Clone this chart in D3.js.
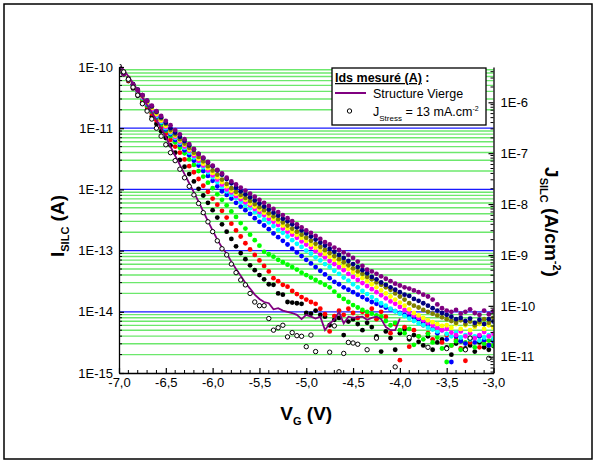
<!DOCTYPE html>
<html><head><meta charset="utf-8">
<script src="https://cdn.jsdelivr.net/npm/d3@7"></script>
<style>body{margin:0;background:#fff}svg{display:block}text{font-family:"Liberation Sans",Arial,sans-serif}</style>
</head><body><svg id="c" width="597" height="463"></svg>
<script>
// Gate voltage grid (V)
const vg = [-7.00,-6.95,-6.90,-6.85,-6.80,-6.75,-6.70,-6.65,-6.60,-6.55,-6.50,-6.45,-6.40,-6.35,-6.30,-6.25,-6.20,-6.15,-6.10,-6.05,
-6.00,-5.95,-5.90,-5.85,-5.80,-5.75,-5.70,-5.65,-5.60,-5.55,-5.50,-5.45,-5.40,-5.35,-5.30,-5.25,-5.20,-5.15,-5.10,-5.05,
-5.00,-4.95,-4.90,-4.85,-4.80,-4.75,-4.70,-4.65,-4.60,-4.55,-4.50,-4.45,-4.40,-4.35,-4.30,-4.25,-4.20,-4.15,-4.10,-4.05,
-4.00,-3.95,-3.90,-3.85,-3.80,-3.75,-3.70,-3.65,-3.60,-3.55,-3.50,-3.45,-3.40,-3.35,-3.30,-3.25,-3.20,-3.15,-3.10,-3.05,-3.00];

// log10(Ids / A), one value per VG
const purple = [-10.05,-10.12,-10.20,-10.29,-10.38,-10.46,-10.55,-10.63,-10.72,-10.80,
-10.88,-10.95,-11.03,-11.10,-11.18,-11.26,-11.34,-11.42,-11.48,-11.55,
-11.61,-11.68,-11.74,-11.81,-11.87,-11.92,-11.97,-12.02,-12.07,-12.12,
-12.17,-12.22,-12.27,-12.32,-12.37,-12.42,-12.47,-12.52,-12.57,-12.62,
-12.67,-12.71,-12.76,-12.81,-12.86,-12.90,-12.95,-12.99,-13.03,-13.07,
-13.12,-13.18,-13.25,-13.31,-13.34,-13.38,-13.42,-13.46,-13.50,-13.54,
-13.57,-13.60,-13.62,-13.65,-13.68,-13.72,-13.75,-13.80,-13.88,-13.94,
-13.98,-14.00,-13.97,-14.03,-14.00,-13.96,-14.02,-14.05,-13.98,-14.04,-13.99];
const navy = [-10.02,-10.10,-10.19,-10.28,-10.37,-10.46,-10.55,-10.64,-10.73,-10.82,
-10.91,-11.00,-11.07,-11.14,-11.21,-11.28,-11.35,-11.42,-11.49,-11.56,
-11.62,-11.69,-11.76,-11.83,-11.90,-11.97,-12.03,-12.08,-12.13,-12.18,
-12.23,-12.28,-12.33,-12.38,-12.43,-12.48,-12.52,-12.57,-12.62,-12.67,
-12.72,-12.77,-12.82,-12.87,-12.92,-12.97,-13.02,-13.07,-13.12,-13.17,
-13.22,-13.27,-13.32,-13.37,-13.43,-13.47,-13.52,-13.56,-13.60,-13.64,
-13.68,-13.72,-13.74,-13.79,-13.82,-13.86,-13.90,-13.94,-13.98,-14.02,
-14.05,-14.08,-14.12,-14.10,-14.15,-14.11,-14.18,-14.13,-14.20,-14.12,-14.16];
const olive = [-10.00,-10.09,-10.18,-10.28,-10.37,-10.46,-10.56,-10.65,-10.74,-10.84,
-10.93,-11.03,-11.10,-11.18,-11.25,-11.32,-11.40,-11.47,-11.54,-11.62,
-11.69,-11.76,-11.84,-11.91,-11.98,-12.04,-12.09,-12.14,-12.19,-12.24,
-12.29,-12.34,-12.39,-12.44,-12.49,-12.54,-12.59,-12.64,-12.69,-12.74,
-12.79,-12.84,-12.89,-12.94,-12.99,-13.04,-13.09,-13.14,-13.19,-13.24,
-13.29,-13.34,-13.38,-13.43,-13.47,-13.52,-13.56,-13.60,-13.64,-13.70,
-13.75,-13.80,-13.86,-13.90,-13.93,-13.97,-14.00,-14.03,-14.06,-14.09,
-14.12,-14.15,-14.18,-14.14,-14.20,-14.16,-14.22,-14.17,-14.12,-14.18,-14.10];
const yellow = [-10.00,-10.09,-10.19,-10.29,-10.38,-10.48,-10.58,-10.67,-10.77,-10.87,
-10.96,-11.05,-11.12,-11.20,-11.27,-11.35,-11.42,-11.50,-11.58,-11.65,
-11.73,-11.80,-11.88,-11.95,-12.02,-12.07,-12.12,-12.17,-12.23,-12.28,
-12.33,-12.38,-12.43,-12.48,-12.53,-12.59,-12.64,-12.69,-12.74,-12.79,
-12.84,-12.90,-12.95,-13.00,-13.05,-13.10,-13.15,-13.20,-13.25,-13.30,
-13.35,-13.40,-13.45,-13.50,-13.55,-13.60,-13.65,-13.70,-13.75,-13.80,
-13.85,-13.90,-13.96,-14.02,-14.06,-14.10,-14.14,-14.17,-14.20,-14.23,
-14.22,-14.26,-14.20,-14.28,-14.22,-14.30,-14.25,-14.20,-14.28,-14.22,-14.26];
const magenta = [-10.00,-10.10,-10.20,-10.29,-10.39,-10.49,-10.59,-10.69,-10.78,-10.88,
-10.98,-11.06,-11.14,-11.22,-11.30,-11.37,-11.45,-11.53,-11.61,-11.69,
-11.77,-11.84,-11.92,-12.00,-12.05,-12.11,-12.16,-12.21,-12.26,-12.32,
-12.37,-12.42,-12.48,-12.53,-12.58,-12.64,-12.69,-12.74,-12.79,-12.85,
-12.90,-12.95,-13.01,-13.06,-13.11,-13.17,-13.22,-13.27,-13.32,-13.38,
-13.43,-13.48,-13.53,-13.58,-13.63,-13.68,-13.73,-13.78,-13.83,-13.87,
-13.92,-13.97,-14.01,-14.06,-14.10,-14.14,-14.18,-14.22,-14.26,-14.30,
-14.28,-14.34,-14.38,-14.32,-14.40,-14.35,-14.43,-14.38,-14.33,-14.40,-14.36];
const cyan = [-10.00,-10.10,-10.20,-10.30,-10.40,-10.50,-10.60,-10.70,-10.80,-10.90,
-11.00,-11.08,-11.16,-11.24,-11.32,-11.40,-11.48,-11.56,-11.64,-11.72,
-11.80,-11.88,-11.96,-12.03,-12.09,-12.14,-12.20,-12.26,-12.31,-12.37,
-12.43,-12.49,-12.54,-12.60,-12.66,-12.71,-12.77,-12.83,-12.89,-12.94,
-13.00,-13.05,-13.11,-13.16,-13.22,-13.27,-13.33,-13.38,-13.44,-13.49,
-13.55,-13.60,-13.66,-13.71,-13.76,-13.81,-13.86,-13.90,-13.95,-13.99,
-14.03,-14.07,-14.11,-14.15,-14.19,-14.22,-14.26,-14.29,-14.32,-14.30,
-14.36,-14.40,-14.34,-14.42,-14.38,-14.45,-14.40,-14.47,-14.42,-14.38,-14.44];
const blue = [-10.00,-10.10,-10.20,-10.30,-10.40,-10.50,-10.61,-10.71,-10.81,-10.91,
-11.02,-11.10,-11.19,-11.27,-11.36,-11.44,-11.53,-11.61,-11.70,-11.78,
-11.86,-11.95,-12.03,-12.09,-12.15,-12.22,-12.28,-12.34,-12.40,-12.47,
-12.53,-12.59,-12.65,-12.72,-12.78,-12.84,-12.90,-12.97,-13.03,-13.09,
-13.15,-13.21,-13.27,-13.33,-13.39,-13.45,-13.51,-13.55,-13.60,-13.64,
-13.68,-13.72,-13.76,-13.80,-13.84,-13.87,-13.90,-13.93,-13.96,-13.99,
-14.02,-14.05,-14.07,-14.10,-14.12,-14.18,-14.22,-14.28,-14.35,-14.30,
-14.45,-14.82,-14.40,-14.48,-14.52,-14.44,-14.50,-14.40,-14.46,-14.55,-14.48];
const green = [-10.00,-10.10,-10.21,-10.31,-10.42,-10.52,-10.63,-10.73,-10.83,-10.94,
-11.04,-11.13,-11.23,-11.32,-11.41,-11.51,-11.60,-11.70,-11.79,-11.89,
-11.98,-12.08,-12.17,-12.26,-12.36,-12.45,-12.55,-12.64,-12.74,-12.83,
-12.92,-13.02,-13.06,-13.10,-13.15,-13.19,-13.23,-13.27,-13.31,-13.36,
-13.40,-13.44,-13.48,-13.52,-13.56,-13.60,-13.67,-13.74,-13.79,-13.84,
-13.89,-13.93,-13.97,-14.00,-14.03,-14.06,-14.08,-14.15,-14.22,-14.18,
-14.30,-14.35,-14.28,-14.54,-14.40,-14.45,-14.36,-14.50,-14.42,-14.60,
-14.82,-14.55,-14.48,-14.62,-14.50,-14.45,-14.58,-14.40,-14.52,-14.47,-14.55];
const red = [-10.00,-10.11,-10.22,-10.33,-10.43,-10.54,-10.65,-10.76,-10.87,-10.98,
-11.09,-11.19,-11.30,-11.40,-11.51,-11.62,-11.72,-11.83,-11.94,-12.04,
-12.15,-12.25,-12.35,-12.46,-12.56,-12.67,-12.77,-12.88,-12.98,-13.07,
-13.16,-13.25,-13.34,-13.45,-13.50,-13.56,-13.59,-13.66,-13.71,-13.76,
-13.80,-13.84,-13.87,-13.95,-14.04,-14.32,-14.07,-13.98,-14.05,-13.95,
-14.02,-14.10,-14.00,-14.06,-13.95,-14.12,-14.00,-14.08,-14.35,-14.20,
-14.79,-14.25,-14.57,-14.30,-14.40,-14.22,-14.35,-14.45,-14.28,-14.50,
-14.38,-14.55,-14.46,-14.60,-14.80,-14.50,-14.42,-14.58,-14.48,-14.54,-14.45];
const black = [-10.00,-10.12,-10.23,-10.35,-10.47,-10.58,-10.70,-10.81,-10.93,-11.05,
-11.16,-11.28,-11.40,-11.52,-11.63,-11.75,-11.87,-11.99,-12.10,-12.22,
-12.34,-12.46,-12.57,-12.69,-12.81,-12.93,-13.04,-13.14,-13.24,-13.32,
-13.40,-13.47,-13.55,-13.56,-13.70,-13.72,-13.84,-13.85,-13.86,-13.87,
-14.02,-14.03,-13.98,-14.05,-14.08,-14.22,-14.13,-14.10,-14.38,-14.16,
-14.12,-14.20,-14.30,-14.18,-14.25,-14.40,-14.65,-14.32,-14.43,-14.62,
-14.35,-14.28,-14.45,-14.38,-14.49,-14.55,-14.40,-14.62,-14.50,-14.45,
-14.58,-14.70,-14.52,-14.48,-14.60,-14.55,-14.65,-14.50,-14.58,-14.62,-14.56];
// open circles: J_Stress = 13 mA.cm-2 (null = no visible point)
const stress13 = [-9.98,-10.08,-10.20,-10.33,-10.46,-10.60,-10.72,-10.85,-11.00,-11.13,
-11.27,-11.40,-11.53,-11.67,-11.81,-11.95,-12.09,-12.23,-12.38,-12.53,
-12.69,-12.84,-12.97,-13.07,-13.22,-13.36,-13.48,-13.56,-13.70,-13.84,
-13.90,-13.90,-14.11,-14.30,-14.26,-14.22,-14.41,-14.34,-14.39,-14.40,
-14.57,-14.38,-14.65,null,null,-14.66,-14.23,-14.98,-14.68,-14.50,
-14.51,-14.53,null,-14.62,null,-14.43,null,null,null,-14.90,
null,null,-14.42,null,null,null,-14.58,null,null,null,
-14.60,null,null,null,-14.62,-14.43,null,null,null,-14.76,null];
// line: Structure Vierge (VG from -7.00 to -4.00)
const vierge = [-9.95,-10.05,-10.15,-10.26,-10.38,-10.50,-10.62,-10.74,-10.87,-11.00,
-11.14,-11.30,-11.45,-11.60,-11.75,-11.90,-12.05,-12.20,-12.36,-12.52,
-12.67,-12.82,-12.95,-13.05,-13.18,-13.30,-13.41,-13.53,-13.62,-13.72,
-13.79,-13.84,-13.86,-13.96,-13.94,-13.98,-14.00,-14.02,-14.05,-14.12,
-14.05,-14.08,-14.11,-14.08,-14.30,-14.19,-14.13,-14.00,-14.19,-14.08,
-14.10,-14.09,-14.08,-14.13,-14.10,-14.08,-14.12,-14.25,-14.30,-14.30,-14.11];

const leftTicks = ["1E-15","1E-14","1E-13","1E-12","1E-11","1E-10"];
const rightTicks = ["1E-11","1E-10","1E-9","1E-8","1E-7","1E-6"];
const xTicks = ["-7,0","-6,5","-6,0","-5,5","-5,0","-4,5","-4,0","-3,5","-3,0"];
const xTickVals = [-7,-6.5,-6,-5.5,-5,-4.5,-4,-3.5,-3];

const svg = d3.select('#c');
const X0 = 119, X1 = 493.5, Y0 = 67, Y1 = 373;
const x = d3.scaleLinear().domain([-7, -3]).range([X0, X1]);
const y = d3.scaleLog().domain([1e-15, 1e-10]).range([Y1, Y0]);
const yR = d3.scaleLog().domain([Math.pow(10, -11.32), Math.pow(10, -5.306)]).range([Y1, Y0]);
const pw = v => Math.pow(10, v);

// outer frame
svg.append('rect').attr('x', 4).attr('y', 4).attr('width', 588).attr('height', 455)
  .attr('fill', 'none').attr('stroke', '#000').attr('stroke-width', 1.5);

// grid lines
const grid = svg.append('g');
const leftMajor = leftTicks.map((t, i) => pw(-15 + i));
const leftMinor = [];
for (let d = -15; d < -10; d++) for (let m = 2; m <= 9; m++) leftMinor.push(m * pw(d));
grid.selectAll('line.gm').data(leftMinor).join('line').attr('class', 'gm')
  .attr('x1', X0).attr('x2', X1).attr('y1', d => y(d)).attr('y2', d => y(d))
  .attr('stroke', '#6ce86c').attr('stroke-width', 1.4);
grid.selectAll('line.gM').data(leftMajor.slice(1, 5)).join('line').attr('class', 'gM')
  .attr('x1', X0).attr('x2', X1).attr('y1', d => y(d)).attr('y2', d => y(d))
  .attr('stroke', '#1a1aff').attr('stroke-width', 1.3);

// data
svg.append('clipPath').attr('id', 'clip').append('rect')
  .attr('x', X0).attr('y', Y0 - 3).attr('width', X1 - X0).attr('height', Y1 - Y0 + 3);
const plot = svg.append('g').attr('clip-path', 'url(#clip)');
const series = [
  {data: black, color: '#000000'}, {data: red, color: '#ff0000'}, {data: green, color: '#00ff00'},
  {data: blue, color: '#0000ff'}, {data: cyan, color: '#00ffff'}, {data: magenta, color: '#ff00ff'},
  {data: yellow, color: '#ffff00'}, {data: olive, color: '#808000'}, {data: navy, color: '#000080'},
  {data: purple, color: '#800080'}
];
series.forEach(s => {
  const pts = vg.map((v, i) => [v, s.data[i]]).filter(p => p[1] != null);
  plot.append('g').selectAll('circle').data(pts).join('circle')
    .attr('cx', d => x(d[0])).attr('cy', d => y(pw(d[1]))).attr('r', 2.4).attr('fill', s.color);
});
const linePts = vierge.map((v, i) => [vg[i], v]);
plot.append('path').datum(linePts)
  .attr('d', d3.line().x(d => x(d[0])).y(d => y(pw(d[1]))))
  .attr('fill', 'none').attr('stroke', '#800080').attr('stroke-width', 1.8);
const opn = vg.map((v, i) => [v, stress13[i]]).filter(p => p[1] != null);
plot.append('g').selectAll('circle').data(opn).join('circle')
  .attr('cx', d => x(d[0])).attr('cy', d => y(pw(d[1]))).attr('r', 2.2)
  .attr('fill', '#fff').attr('stroke', '#000').attr('stroke-width', 1);

// axes
function styleAxis(g) {
  g.attr('font-family', null).attr('font-size', null);
  g.select('.domain').attr('stroke', '#000').attr('stroke-width', 1.3);
  g.selectAll('.tick line').attr('stroke', '#000').attr('stroke-width', 1.2);
  g.selectAll('.tick text').attr('fill', '#000').style('font-size', '13px');
}
const axL = svg.append('g').attr('transform', `translate(${X0},0)`)
  .call(d3.axisLeft(y).tickValues(leftMajor).tickFormat((d, i) => leftTicks[i]).tickSizeInner(-5).tickSizeOuter(0).tickPadding(6));
styleAxis(axL);
const axR = svg.append('g').attr('transform', `translate(${X1},0)`)
  .call(d3.axisRight(yR).tickValues(rightTicks.map((t, i) => pw(-11 + i))).tickFormat((d, i) => rightTicks[i]).tickSizeInner(-5).tickSizeOuter(0).tickPadding(7));
styleAxis(axR);
const axB = svg.append('g').attr('transform', `translate(0,${Y1})`)
  .call(d3.axisBottom(x).tickValues(xTickVals).tickFormat((d, i) => xTicks[i]).tickSizeInner(-5).tickSizeOuter(0).tickPadding(5));
styleAxis(axB);

// minor ticks
const minorG = svg.append('g').attr('stroke', '#000').attr('stroke-width', 1);
minorG.selectAll('line.ml').data(leftMinor).join('line').attr('class', 'ml')
  .attr('x1', X0).attr('x2', X0 + 3).attr('y1', d => y(d)).attr('y2', d => y(d));
const rightMinor = [];
for (let d = -12; d <= -6; d++) for (let m = 2; m <= 9; m++) {
  const v = m * pw(d);
  if (v > yR.domain()[0] && v < yR.domain()[1]) rightMinor.push(v);
}
minorG.selectAll('line.mr').data(rightMinor).join('line').attr('class', 'mr')
  .attr('x1', X1).attr('x2', X1 - 3).attr('y1', d => yR(d)).attr('y2', d => yR(d));
const xMinor = vg.filter((v, i) => i % 2 === 0 && !xTickVals.includes(v));
minorG.selectAll('line.mb').data(xMinor).join('line').attr('class', 'mb')
  .attr('x1', d => x(d)).attr('x2', d => x(d)).attr('y1', Y1).attr('y2', Y1 - 3);

// axis titles
const tL = svg.append('text').attr('transform', `translate(64,${(Y0 + Y1) / 2 + 6}) rotate(-90)`)
  .attr('text-anchor', 'middle').attr('font-weight', 'bold').style('font-size', '19px').attr('fill', '#000');
tL.append('tspan').text('I');
tL.append('tspan').attr('dy', 5).style('font-size', '11px').text('SILC');
tL.append('tspan').attr('dy', -5).text(' (A)');

const tR = svg.append('text').attr('transform', `translate(545,${(Y0 + Y1) / 2 + 2}) rotate(90)`)
  .attr('text-anchor', 'middle').attr('font-weight', 'bold').style('font-size', '19px').attr('fill', '#000');
tR.append('tspan').text('J');
tR.append('tspan').attr('dy', 5).style('font-size', '11px').text('SILC');
tR.append('tspan').attr('dy', -5).text(' (A/cm');
tR.append('tspan').attr('dy', -8).style('font-size', '11px').text('-2');
tR.append('tspan').attr('dy', 8).text(')');

const tB = svg.append('text').attr('x', (X0 + X1) / 2).attr('y', 420)
  .attr('text-anchor', 'middle').attr('font-weight', 'bold').style('font-size', '19px').attr('fill', '#000');
tB.append('tspan').text('V');
tB.append('tspan').attr('dy', 5).style('font-size', '11px').text('G');
tB.append('tspan').attr('dy', -5).text(' (V)');

// legend
const lg = svg.append('g');
lg.append('rect').attr('x', 332).attr('y', 68).attr('width', 154).attr('height', 57)
  .attr('fill', '#fff').attr('stroke', '#000').attr('stroke-width', 1.3);
const l1 = lg.append('text').attr('x', 335).attr('y', 82).attr('font-weight', 'bold').style('font-size', '12.5px');
l1.append('tspan').attr('text-decoration', 'underline').text('Ids mesuré (A)');
l1.append('tspan').text(' :');
lg.append('line').attr('x1', 335).attr('x2', 366).attr('y1', 93).attr('y2', 93)
  .attr('stroke', '#800080').attr('stroke-width', 2);
lg.append('text').attr('x', 373).attr('y', 97.5).style('font-size', '12.5px').text('Structure Vierge');
lg.append('circle').attr('cx', 349.5).attr('cy', 111).attr('r', 2.2).attr('fill', '#fff').attr('stroke', '#000');
const l3 = lg.append('text').attr('x', 373).attr('y', 115.5).style('font-size', '12.5px');
l3.append('tspan').text('J');
l3.append('tspan').attr('dy', 5).style('font-size', '8px').text('Stress');
l3.append('tspan').attr('dy', -5).text(' = 13 mA.cm');
l3.append('tspan').attr('dy', -5).style('font-size', '7px').text('-2');
</script></body></html>
